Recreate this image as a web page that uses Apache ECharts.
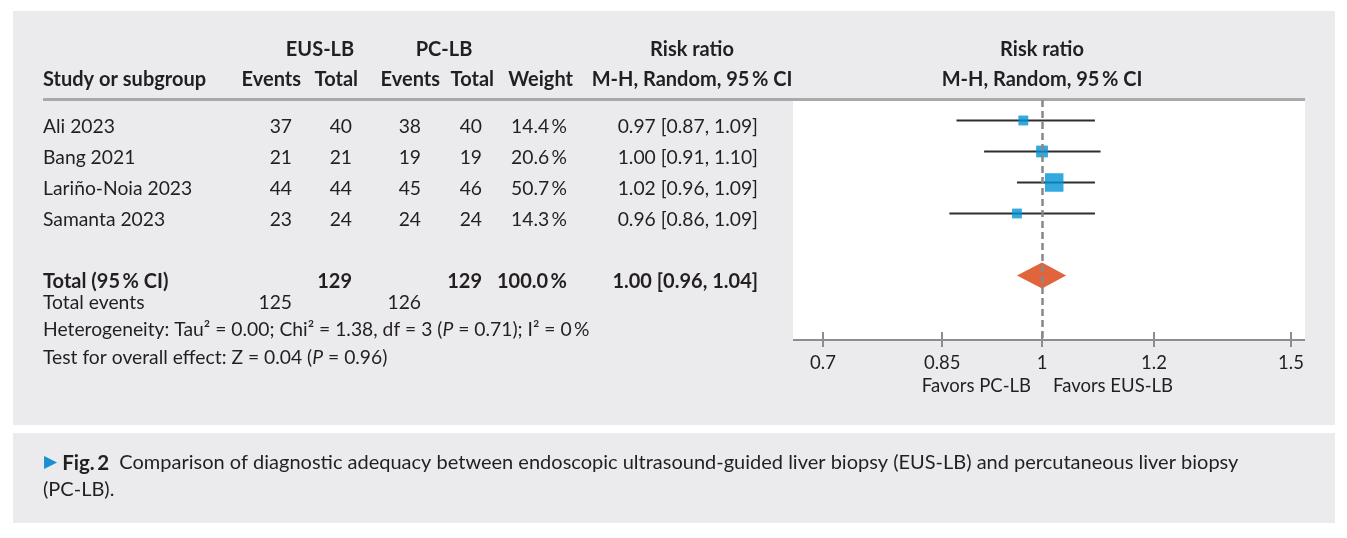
<!DOCTYPE html>
<html>
<head>
<meta charset="utf-8">
<script src="https://cdn.jsdelivr.net/npm/echarts@6/dist/echarts.min.js"></script>
<style>
  html, body { margin: 0; padding: 0; background: #fff; }
  #chart { width: 1347px; height: 538px; }
</style>
</head>
<body>
<div id="chart"></div>
<script>
// study rows
const studies = ["Ali 2023", "Bang 2021", "Lariño-Noia 2023", "Samanta 2023"];
const eusEvents = [37, 21, 44, 23];
const eusTotal = [40, 21, 44, 24];
const pcEvents = [38, 19, 45, 24];
const pcTotal = [40, 19, 46, 24];
const weights = [14.4, 20.6, 50.7, 14.3];
const riskRatio = [0.97, 1.00, 1.02, 0.96];
const ciLow = [0.87, 0.91, 0.96, 0.86];
const ciHigh = [1.09, 1.10, 1.09, 1.09];

// pooled result: [estimate, low, high]
const pooled = [1.00, 0.96, 1.04];
const pooledTotals = [129, 129];
const pooledWeight = 100.0;
const totalEvents = [125, 126];

const xTicks = [0.7, 0.85, 1, 1.2, 1.5];

const INK = "#231f20";
const FONT = "Lato, 'Open Sans', sans-serif";
const BODY = 19.3;
const BOLD = 20;
const CAPTION = 20;
const SQUARE = "#0093d6";
const DIAMOND = "#e0653c";
const TOTAL_ROW = 5;
const TEXT_SHIFT = 6; // table text sits a bit below the marker line

// x of each table column (left edge for the first, right edge for the rest)
const COLS = [43, 292, 352, 421, 482, 567, 758];

const fmt2 = (v) => Number(v).toFixed(2);
const ciText = (e, lo, hi) => `${fmt2(e)} [${fmt2(lo)}, ${fmt2(hi)}]`;
const pct = (v) => `${Number(v).toFixed(1)}\u2009%`;

const tableRows = studies.map((name, i) => ({
  row: i,
  bold: false,
  cells: [name, eusEvents[i], eusTotal[i], pcEvents[i], pcTotal[i], pct(weights[i]), ciText(riskRatio[i], ciLow[i], ciHigh[i])],
}));
tableRows.push({
  row: TOTAL_ROW,
  bold: true,
  cells: ["Total (95\u2009% CI)", "", pooledTotals[0], "", pooledTotals[1], pct(pooledWeight), ciText(...pooled)],
});

function txt(x, y, text, opts = {}) {
  const size = opts.size || (opts.bold ? BOLD : BODY);
  return {
    type: "text", x, y, z: 10,
    style: {
      text, fill: INK,
      font: `${opts.bold ? "bold " : ""}${size}px ${FONT}`,
      align: opts.align || "left", verticalAlign: "middle",
      rich: opts.rich,
    },
  };
}

const italic = { i: { fontStyle: "italic", fontSize: BODY, fontFamily: FONT, fill: INK } };

const graphics = [
  { type: "rect", z: -10, shape: { x: 13, y: 11, width: 1322, height: 414 }, style: { fill: "#ebebed" } },
  { type: "rect", z: -10, shape: { x: 13, y: 433, width: 1322, height: 90 }, style: { fill: "#ebebed" } },
  { type: "rect", z: -5, shape: { x: 793, y: 100, width: 512, height: 240 }, style: { fill: "#ffffff" } },
  { type: "line", z: 5, shape: { x1: 43, y1: 99.5, x2: 1305, y2: 99.5 }, style: { stroke: "#a9a9ab", lineWidth: 3 } },
  { type: "line", z: 5, shape: { x1: 793, y1: 340, x2: 1305, y2: 340 }, style: { stroke: "#8d8d8f", lineWidth: 2 } },
  // header
  txt(320, 50, "EUS-LB", { bold: true, align: "center" }),
  txt(444, 50, "PC-LB", { bold: true, align: "center" }),
  txt(692, 50, "Risk ratio", { bold: true, align: "center" }),
  txt(1042, 50, "Risk ratio", { bold: true, align: "center" }),
  txt(43, 80, "Study or subgroup", { bold: true }),
  txt(301, 80, "Events", { bold: true, align: "right" }),
  txt(358, 80, "Total", { bold: true, align: "right" }),
  txt(440, 80, "Events", { bold: true, align: "right" }),
  txt(494, 80, "Total", { bold: true, align: "right" }),
  txt(573, 80, "Weight", { bold: true, align: "right" }),
  txt(692, 80, "M-H, Random, 95\u2009% CI", { bold: true, align: "center" }),
  txt(1042, 80, "M-H, Random, 95\u2009% CI", { bold: true, align: "center" }),
  // footer
  txt(43, 303, "Total events"),
  txt(COLS[1], 303, String(totalEvents[0]), { align: "right" }),
  txt(COLS[3], 303, String(totalEvents[1]), { align: "right" }),
  txt(43, 330, "Heterogeneity: Tau\u00b2 = 0.00; Chi\u00b2 = 1.38, df = 3 ({i|P} = 0.71); I\u00b2 = 0\u2009%", { rich: italic }),
  txt(43, 358, "Test for overall effect: Z = 0.04 ({i|P} = 0.96)", { rich: italic }),
  txt(1031, 386, "Favors PC-LB", { align: "right", size: 18.5 }),
  txt(1053, 386, "Favors EUS-LB", { size: 18.5 }),
  // caption
  txt(44, 463, "{a|\u25B6} {b|Fig.\u20092}  Comparison of diagnostic adequacy between endoscopic ultrasound-guided liver biopsy (EUS-LB) and percutaneous liver biopsy", {
    size: CAPTION,
    rich: {
      a: { fill: "#1a8fd2", fontSize: 17, fontFamily: "DejaVu Sans" },
      b: { fontWeight: "bold", fontSize: CAPTION + 0.5, fontFamily: FONT, fill: INK },
    },
  }),
  txt(43, 490, "(PC-LB).", { size: CAPTION }),
];

const chart = echarts.init(document.getElementById("chart"), null, { renderer: "canvas" });
chart.setOption({
  animation: false,
  grid: [{ left: 823, width: 468, top: 100, height: 240 }],
  xAxis: {
    type: "log", logBase: 10, min: 0.7, max: 1.5, position: "bottom",
    offset: -8, // ticks cross the axis line drawn at the grid bottom
    axisLine: { show: false, onZero: false }, splitLine: { show: false },
    axisTick: { show: true, inside: false, length: 15, customValues: xTicks, lineStyle: { color: "#8d8d8f", width: 2 } },
    axisLabel: { customValues: xTicks, color: INK, fontSize: 18.5, fontFamily: FONT, margin: 22, formatter: (v) => String(+Number(v).toFixed(2)) },
  },
  yAxis: { type: "value", inverse: true, min: -0.661, max: 7.081, show: false },
  graphic: graphics,
  series: [
    {
      name: "ci",
      type: "custom",
      z: 3,
      data: ciLow.map((lo, i) => [lo, ciHigh[i], i]),
      encode: { x: [0, 1], y: 2 },
      renderItem: (params, api) => {
        const a = api.coord([api.value(0), api.value(2)]);
        const b = api.coord([api.value(1), api.value(2)]);
        return { type: "line", shape: { x1: a[0], y1: a[1], x2: b[0], y2: b[1] }, style: { stroke: "#2e2e2e", lineWidth: 2 } };
      },
      markLine: {
        silent: true, symbol: ["none", "none"], label: { show: false },
        lineStyle: { color: "#88888a", width: 2.5, type: [7, 4] },
        data: [{ xAxis: 1 }],
      },
    },
    {
      name: "studies",
      type: "scatter",
      z: 4,
      symbol: "rect",
      data: riskRatio.map((v, i) => [v, i, weights[i]]),
      symbolSize: (d) => 2.6 * Math.sqrt(d[2]),
      itemStyle: { color: SQUARE },
    },
    {
      name: "pooled",
      type: "custom",
      z: 4,
      data: [[pooled[1], pooled[0], pooled[2], TOTAL_ROW]],
      encode: { x: [0, 1, 2], y: 3 },
      renderItem: (params, api) => {
        const y = api.value(3);
        const lo = api.coord([api.value(0), y]);
        const mid = api.coord([api.value(1), y]);
        const hi = api.coord([api.value(2), y]);
        const h = 13;
        return {
          type: "polygon",
          shape: { points: [[lo[0], lo[1]], [mid[0], mid[1] - h], [hi[0], hi[1]], [mid[0], mid[1] + h]] },
          style: { fill: DIAMOND },
        };
      },
    },
    {
      name: "table",
      type: "custom",
      z: 10,
      clip: false,
      data: tableRows.map((r) => [1, r.row]),
      renderItem: (params, api) => {
        const r = tableRows[params.dataIndex];
        const y = api.coord([1, api.value(1)])[1] + TEXT_SHIFT;
        return {
          type: "group",
          children: r.cells.map((c, k) => ({
            type: "text",
            style: {
              x: COLS[k], y, text: String(c), fill: INK,
              font: `${r.bold ? "bold " : ""}${r.bold ? BOLD : BODY}px ${FONT}`,
              align: k === 0 ? "left" : "right", verticalAlign: "middle",
            },
          })),
        };
      },
    },
  ],
});
</script>
</body>
</html>
